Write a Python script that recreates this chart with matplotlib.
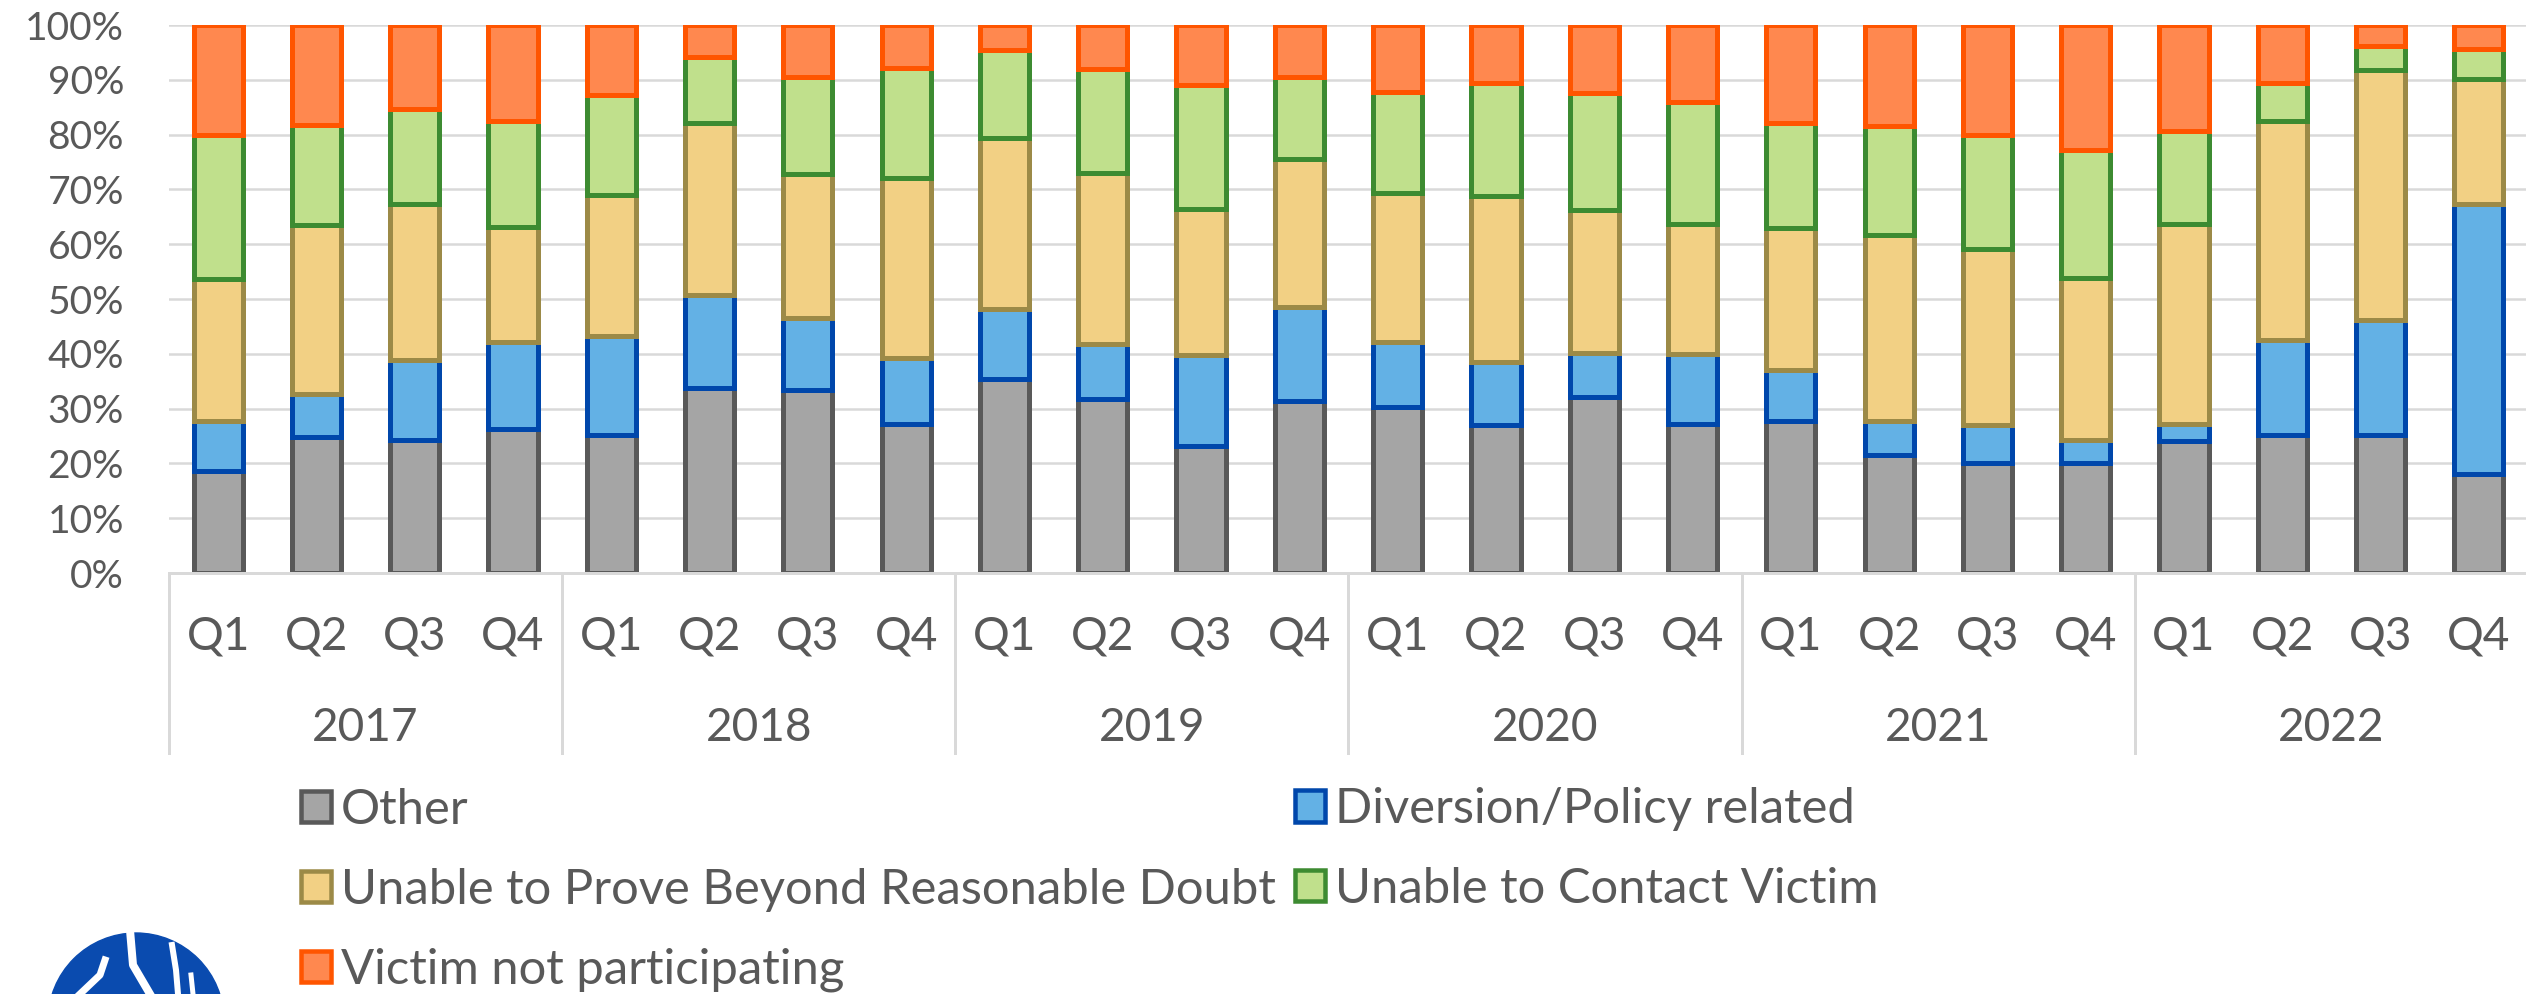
import matplotlib

matplotlib.use("Agg")
import matplotlib.pyplot as plt
from matplotlib.patches import Circle, Patch
from matplotlib.transforms import blended_transform_factory

years = ["2017", "2018", "2019", "2020", "2021", "2022"]
quarters = ["Q1", "Q2", "Q3", "Q4"]

# shares per quarter (percent)
other = [18.7, 24.9, 24.2, 26.2, 25.2, 33.8, 33.4, 27.2, 35.4, 31.7, 23.1, 31.4,
         30.3, 27.0, 32.1, 27.2, 27.7, 21.6, 20.0, 20.0, 24.1, 25.2, 25.2, 18.1]
diversion = [9.1, 7.8, 14.7, 16.0, 18.0, 16.9, 13.2, 12.0, 12.8, 10.0, 16.7, 17.1,
             11.8, 11.5, 8.0, 12.8, 9.3, 6.1, 7.0, 4.2, 3.1, 17.4, 20.9, 49.2]
no_proof = [25.8, 30.8, 28.5, 21.0, 25.8, 31.4, 26.3, 32.8, 31.1, 31.3, 26.6, 27.0,
            27.2, 30.3, 26.2, 23.6, 25.9, 33.9, 32.2, 29.6, 36.5, 39.8, 45.6, 22.8]
no_contact = [26.4, 18.2, 17.2, 19.3, 18.3, 12.0, 17.7, 20.2, 16.2, 19.0, 22.7, 15.0,
              18.5, 20.6, 21.2, 22.3, 19.3, 19.9, 20.7, 23.4, 17.0, 7.0, 4.5, 5.6]
not_participating = [20.0, 18.3, 15.4, 17.5, 12.7, 5.9, 9.4, 7.8, 4.5, 8.0, 10.9, 9.5,
                     12.2, 10.6, 12.5, 14.1, 17.8, 18.5, 20.1, 22.8, 19.3, 10.6, 3.8, 4.3]

series = [
    ("Other", other, "#A5A5A5", "#595959"),
    ("Diversion/Policy related", diversion, "#63B1E5", "#0047AB"),
    ("Unable to Prove Beyond Reasonable Doubt", no_proof, "#F2D084", "#9C8A47"),
    ("Unable to Contact Victim", no_contact, "#C0E08C", "#3D8B31"),
    ("Victim not participating", not_participating, "#FF884F", "#FF5500"),
]

W, H, DPI = 2526, 994, 100
TEXT = "#595959"
GRID = "#D9D9D9"
plt.rcParams["font.family"] = ["Lato", "DejaVu Sans"]


def pt(px):
    return px * 72 / DPI


fig = plt.figure(figsize=(W / DPI, H / DPI), dpi=DPI)
ax = fig.add_axes([169 / W, (H - 573) / H, (2528 - 169) / W, 548 / H])

n = len(other)
x = list(range(n))
totals = [sum(s[1][i] for s in series) for i in range(n)]
bottom = [0.0] * n
handles = []
for label, vals, face, edge in series:
    share = [v / t * 100 for v, t in zip(vals, totals)]
    ax.bar(x, share, 0.5, bottom=bottom, color=face, edgecolor=edge,
           linewidth=pt(5), label=label, zorder=3)
    bottom = [b + s for b, s in zip(bottom, share)]
    handles.append(Patch(facecolor=face, edgecolor=edge, linewidth=pt(4.5), label=label))

ax.set_xlim(-0.5, n - 0.5)
ax.set_ylim(0, 100)
ax.set_yticks(range(0, 101, 10), [f"{v}%" for v in range(0, 101, 10)])
ax.tick_params(axis="y", length=0, pad=pt(45), labelsize=pt(39), labelcolor=TEXT)
ax.set_xticks([])
ax.yaxis.grid(True, color=GRID, linewidth=pt(2.5), zorder=0)
for side in ("left", "right", "top"):
    ax.spines[side].set_visible(False)
ax.spines["bottom"].set_color(GRID)
ax.spines["bottom"].set_linewidth(pt(3))
ax.spines["bottom"].set_zorder(4)

# two-level category axis
tr = blended_transform_factory(ax.transData, ax.transAxes)
for i in x:
    ax.text(i, -64 / 548, quarters[i % 4], transform=tr, ha="center", va="center",
            fontsize=pt(46), color=TEXT)
for j, year in enumerate(years):
    ax.text(4 * j + 1.5, -155 / 548, year, transform=tr, ha="center", va="center",
            fontsize=pt(46), color=TEXT)
for j in range(len(years) + 1):
    ax.plot([4 * j - 0.5] * 2, [0, -180 / 548], transform=tr, color=GRID,
            linewidth=pt(3), clip_on=False)

fs = 49
leg_kw = dict(frameon=False, fontsize=pt(fs), borderpad=0, borderaxespad=0,
              handlelength=30 / fs, handleheight=30 / fs, handletextpad=10 / fs,
              labelspacing=0.73, labelcolor=TEXT)
left_col = [handles[0], handles[2], handles[4]]
right_col = [handles[1], handles[3]]
fig.legend(handles=left_col, loc="center left",
           bbox_to_anchor=(301 / W, 1 - 890 / H), **leg_kw)
fig.legend(handles=right_col, loc="center left",
           bbox_to_anchor=(1295 / W, 1 - 849 / H), **leg_kw)

# logo, cut off by the bottom edge
logo = fig.add_axes([0, 0, 1, 1], zorder=-1)
logo.set_xlim(0, W)
logo.set_ylim(H, 0)
logo.axis("off")
logo.add_patch(Circle((136, 1021), 88, color="#0A4BAF"))
logo.plot([130, 133, 150], [930, 965, 994], color="white", linewidth=pt(8))
logo.plot([172, 176, 178], [945, 970, 994], color="white", linewidth=pt(6))
logo.plot([191, 193], [975, 994], color="white", linewidth=pt(5))
logo.plot([80, 100, 105], [994, 975, 960], color="white", linewidth=pt(7))

fig.savefig("out.png", dpi=DPI)
